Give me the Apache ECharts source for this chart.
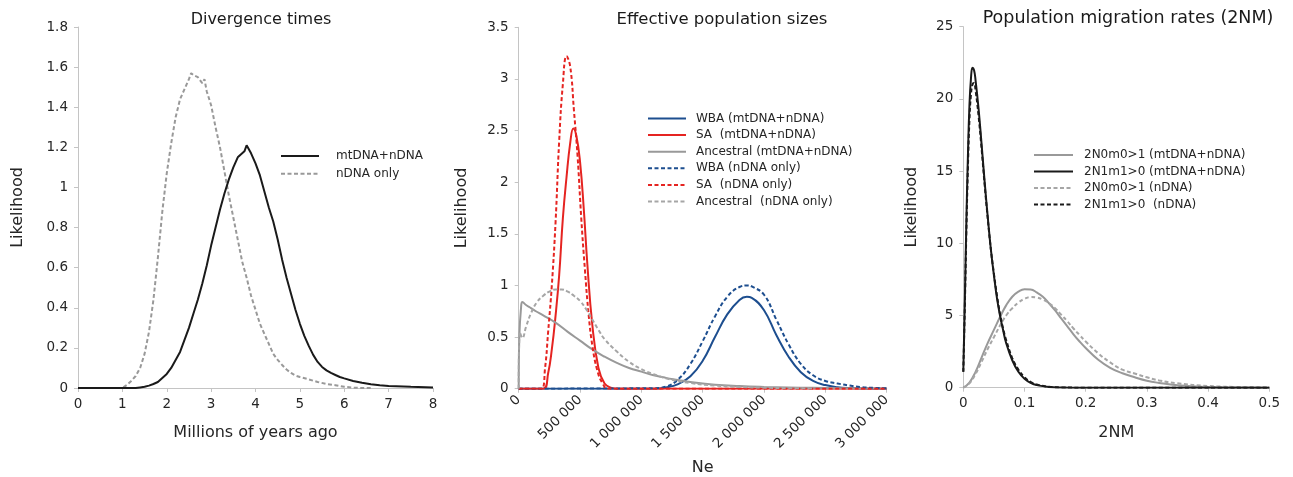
<!DOCTYPE html>
<html>
<head>
<meta charset="utf-8">
<script src="https://cdn.jsdelivr.net/npm/echarts@6/dist/echarts.min.js"></script>
<style>html,body{margin:0;padding:0;background:#fff}#c{width:1293px;height:477px}</style>
</head>
<body>
<div id="c"></div>
<script>
// ---------- Panel 1: Divergence times ----------
const divX_mt = [0,1.3,1.4,1.5,1.6,1.7,1.8,1.9,2.0,2.1,2.2,2.3,2.4,2.5,2.6,2.7,2.8,2.9,3.0,3.1,3.2,3.3,3.4,3.5,3.6,3.7,3.75,3.8,3.85,3.9,4.0,4.1,4.2,4.3,4.4,4.5,4.6,4.7,4.8,4.9,5.0,5.1,5.2,5.3,5.4,5.5,5.6,5.7,5.8,5.9,6.0,6.2,6.4,6.6,6.8,7.0,7.5,8.0];
const divY_mt = [0,0,0.003,0.006,0.012,0.02,0.03,0.05,0.07,0.1,0.14,0.18,0.24,0.3,0.37,0.44,0.52,0.61,0.71,0.8,0.89,0.97,1.04,1.1,1.15,1.17,1.18,1.21,1.19,1.17,1.12,1.06,0.98,0.9,0.83,0.74,0.64,0.55,0.47,0.39,0.32,0.26,0.21,0.165,0.13,0.105,0.088,0.075,0.065,0.055,0.048,0.035,0.026,0.019,0.014,0.01,0.006,0.003];
const divX_n = [0,1.0,1.1,1.2,1.3,1.4,1.5,1.6,1.7,1.8,1.9,2.0,2.1,2.2,2.3,2.4,2.5,2.55,2.6,2.7,2.8,2.85,2.9,3.0,3.1,3.2,3.3,3.4,3.5,3.6,3.7,3.8,3.9,4.0,4.1,4.2,4.3,4.4,4.5,4.6,4.7,4.8,4.9,5.0,5.2,5.4,5.6,5.8,6.0,6.2,6.4,6.6];
const divY_n = [0,0,0.015,0.035,0.06,0.1,0.17,0.28,0.44,0.65,0.88,1.07,1.22,1.35,1.44,1.49,1.54,1.57,1.56,1.55,1.52,1.54,1.48,1.41,1.3,1.2,1.08,0.96,0.85,0.74,0.63,0.55,0.46,0.39,0.32,0.27,0.22,0.17,0.14,0.115,0.092,0.075,0.062,0.055,0.043,0.03,0.02,0.014,0.006,0.002,0,0];

// ---------- Panel 2: Effective population sizes ----------
const wbaX_mt = [0,1100000,1200000,1300000,1400000,1500000,1600000,1700000,1800000,1860000,1900000,2000000,2100000,2200000,2300000,2400000,2500000,2600000,2700000,2800000,3000000];
const wbaY_mt = [0,0,0.012,0.045,0.12,0.27,0.5,0.72,0.86,0.89,0.88,0.76,0.52,0.31,0.16,0.075,0.035,0.015,0.006,0.002,0];
const saX_mt = [0,200000,240000,270000,300000,330000,360000,390000,420000,445000,470000,500000,530000,560000,600000,650000,700000,750000,800000,3000000];
const saY_mt = [0,0,0.15,0.38,0.7,1.1,1.65,2.05,2.38,2.52,2.45,2.2,1.75,1.2,0.62,0.2,0.05,0.01,0,0];
const ancX_mt = [0,5000,20000,30000,60000,100000,140000,200000,300000,400000,500000,600000,700000,800000,900000,1000000,1100000,1200000,1300000,1400000,1600000,1800000,2000000,2200000,2400000,2600000,3000000];
const ancY_mt = [0,0.5,0.8,0.84,0.81,0.78,0.75,0.71,0.64,0.55,0.465,0.38,0.31,0.25,0.2,0.165,0.13,0.105,0.085,0.065,0.038,0.025,0.017,0.012,0.008,0.005,0.002];
const wbaX_n = [0,1100000,1200000,1300000,1400000,1500000,1600000,1700000,1800000,1865000,1900000,2000000,2100000,2200000,2300000,2400000,2500000,2600000,2700000,2800000,2900000,3000000];
const wbaY_n = [0,0.005,0.02,0.09,0.24,0.46,0.7,0.89,0.985,1.0,0.99,0.91,0.67,0.43,0.24,0.13,0.075,0.05,0.03,0.015,0.008,0.003];
const saX_n = [0,185000,215000,240000,270000,300000,330000,360000,390000,420000,450000,480000,510000,540000,570000,600000,640000,680000,730000,3000000];
const saY_n = [0,0,0.2,0.55,1.0,1.6,2.4,2.95,3.22,3.12,2.7,2.25,1.65,1.15,0.72,0.42,0.18,0.06,0,0];
const ancX_n = [0,10000,30000,60000,100000,150000,200000,250000,300000,350000,400000,450000,500000,550000,600000,650000,700000,800000,900000,1000000,1100000,1200000,1300000,1400000,1600000,1800000,2000000,2200000,2400000];
const ancY_n = [0,0.55,0.49,0.6,0.73,0.84,0.9,0.94,0.96,0.96,0.94,0.9,0.85,0.77,0.67,0.57,0.48,0.36,0.26,0.19,0.14,0.1,0.075,0.055,0.03,0.017,0.01,0.005,0.002];

// ---------- Panel 3: Population migration rates (2NM) ----------
const migX_fast = [0,0.0025,0.005,0.0075,0.01,0.0125,0.015,0.0175,0.02,0.025,0.03,0.035,0.04,0.045,0.05,0.055,0.06,0.065,0.07,0.08,0.09,0.1,0.11,0.12,0.14,0.16,0.2,0.3,0.5];
const m10Y_mt = [1.1,6,11.5,16,19.5,21.4,22.15,22.0,21.3,19.3,16.8,14.2,11.8,9.6,7.8,6.2,5.0,4.0,3.1,1.9,1.1,0.62,0.34,0.18,0.05,0.015,0.002,0,0];
const m10Y_n = [1.1,5.6,10.8,15.2,18.5,20.3,21.0,21.1,20.6,18.8,16.5,14.0,11.7,9.6,7.9,6.4,5.1,4.1,3.3,2.05,1.25,0.72,0.4,0.22,0.065,0.02,0.003,0,0];
const migX_slow = [0,0.01,0.02,0.03,0.04,0.05,0.06,0.07,0.08,0.09,0.1,0.11,0.12,0.13,0.14,0.15,0.16,0.17,0.18,0.19,0.2,0.22,0.24,0.26,0.28,0.3,0.32,0.35,0.4,0.45,0.5];
const m01Y_mt = [0,0.35,1.1,2.1,3.1,4.0,4.9,5.7,6.3,6.65,6.82,6.8,6.6,6.3,5.85,5.35,4.8,4.25,3.7,3.2,2.75,1.95,1.38,1.0,0.72,0.48,0.33,0.17,0.05,0.015,0.005];
const m01Y_n = [0,0.3,0.95,1.8,2.7,3.5,4.3,5.0,5.5,5.9,6.15,6.28,6.25,6.1,5.85,5.5,5.05,4.6,4.1,3.65,3.2,2.4,1.75,1.25,0.98,0.72,0.5,0.3,0.12,0.045,0.01];

// tick / label texts
const titles = ['Divergence times', 'Effective population sizes', 'Population migration rates (2NM)'];
const xNames = ['Millions of years ago', 'Ne', '2NM'];
const yName = 'Likelihood';

const zip = (xs, ys) => xs.map((x, i) => [x, ys[i]]);
const FONT = 'DejaVu Sans';
const TXT = '#262626';
const BLACK = '#1a1a1a', GRAY = '#999999', LGRAY = '#a6a6a6', BLUE = '#1d4e8f', RED = '#e52421';

function line(name, data, ax, color, dashed, smooth) {
  return {
    name, type: 'line', data, xAxisIndex: ax, yAxisIndex: ax,
    symbol: 'none', showSymbol: false, smooth: smooth ? 0.45 : false,
    lineStyle: { color, width: 2, type: dashed ? [4, 2.5] : 'solid' },
    itemStyle: { color }, animation: false
  };
}

const axisLine = { show: true, lineStyle: { color: '#c4c4c4', width: 1 } };
const axisTick = { show: true, length: 4, lineStyle: { color: '#c4c4c4' } };
const labelStyle = { color: TXT, fontFamily: FONT, fontSize: 13.5 };
const nameStyle = { color: TXT, fontFamily: FONT, fontSize: 16 };

function xAxis(i, min, max, interval, extra) {
  return Object.assign({
    type: 'value', gridIndex: i, min, max, interval,
    axisLine, axisTick, splitLine: { show: false },
    axisLabel: Object.assign({ margin: 9 }, labelStyle),
    name: xNames[i], nameLocation: 'middle', nameGap: 37, nameTextStyle: nameStyle
  }, extra || {});
}
function yAxis(i, min, max, interval, gap) {
  return {
    type: 'value', gridIndex: i, min, max, interval,
    axisLine, axisTick, splitLine: { show: false },
    axisLabel: Object.assign({ margin: 10 }, labelStyle),
    name: yName, nameLocation: 'middle', nameGap: gap, nameTextStyle: nameStyle
  };
}
const fmtNe = v => String(v).replace(/\B(?=(\d{3})+(?!\d))/g, ' ');

function legend(names, left, top, iw, pad) {
  return {
    data: names, left, top, orient: 'vertical', padding: 0,
    itemWidth: iw, itemHeight: 12, itemGap: 4.6,
    itemStyle: { opacity: 0 },
    textStyle: { color: TXT, fontFamily: FONT, fontSize: 12, padding: [0, 0, 0, pad] }
  };
}

const titleStyle = (fs) => ({ color: BLACK, fontFamily: FONT, fontSize: fs, fontWeight: 'normal' });

const option = {
  backgroundColor: '#fff',
  animation: false,
  title: [
    { text: titles[0], left: 256, top: 6.5, textAlign: 'center', textStyle: titleStyle(16) },
    { text: titles[1], left: 717, top: 6, textAlign: 'center', textStyle: titleStyle(16.5) },
    { text: titles[2], left: 1123, top: 4.5, textAlign: 'center', textStyle: titleStyle(17.5) }
  ],
  grid: [
    { left: 78, top: 27, width: 355, height: 361, outerBoundsMode: 'none', containLabel: false },
    { left: 518.7, top: 27.3, width: 368, height: 361.4, outerBoundsMode: 'none', containLabel: false },
    { left: 963.3, top: 26.7, width: 306, height: 361, outerBoundsMode: 'none', containLabel: false }
  ],
  legend: [
    Object.assign(legend(['mtDNA+nDNA', 'nDNA only'], 280, 150, 38, 12), { itemGap: 5.7 }),
    legend(['WBA (mtDNA+nDNA)', 'SA  (mtDNA+nDNA)', 'Ancestral (mtDNA+nDNA)', 'WBA (nDNA only)', 'SA  (nDNA only)', 'Ancestral  (nDNA only)'], 647, 112.5, 38, 5),
    Object.assign(legend(['2N0m0>1 (mtDNA+nDNA)', '2N1m1>0 (mtDNA+nDNA)', '2N0m0>1 (nDNA)', '2N1m1>0  (nDNA)'], 1033, 149, 39, 6), { itemGap: 4.5 })
  ],
  xAxis: [
    xAxis(0, 0, 8, 1),
    xAxis(1, 0, 3000000, 500000, { axisLabel: Object.assign({ margin: 9, rotate: 45, formatter: fmtNe }, labelStyle), nameGap: 71 }),
    xAxis(2, 0, 0.5, 0.1)
  ],
  yAxis: [
    yAxis(0, 0, 1.8, 0.2, 52),
    yAxis(1, 0, 3.5, 0.5, 49),
    yAxis(2, 0, 25, 5, 43)
  ],
  series: [
    line('nDNA only', zip(divX_n, divY_n), 0, GRAY, true, false),
    line('mtDNA+nDNA', zip(divX_mt, divY_mt), 0, BLACK, false, false),

    line('WBA (mtDNA+nDNA)', zip(wbaX_mt, wbaY_mt), 1, BLUE, false, true),
    line('SA  (mtDNA+nDNA)', zip(saX_mt, saY_mt), 1, RED, false, true),
    line('Ancestral (mtDNA+nDNA)', zip(ancX_mt, ancY_mt), 1, GRAY, false, true),
    line('WBA (nDNA only)', zip(wbaX_n, wbaY_n), 1, BLUE, true, true),
    line('SA  (nDNA only)', zip(saX_n, saY_n), 1, RED, true, true),
    line('Ancestral  (nDNA only)', zip(ancX_n, ancY_n), 1, LGRAY, true, true),

    line('2N0m0>1 (mtDNA+nDNA)', zip(migX_slow, m01Y_mt), 2, GRAY, false, true),
    line('2N0m0>1 (nDNA)', zip(migX_slow, m01Y_n), 2, LGRAY, true, true),
    line('2N1m1>0 (mtDNA+nDNA)', zip(migX_fast, m10Y_mt), 2, BLACK, false, true),
    line('2N1m1>0  (nDNA)', zip(migX_fast, m10Y_n), 2, BLACK, true, true)
  ]
};

const chart = echarts.init(document.getElementById('c'), null, { renderer: 'canvas' });
chart.setOption(option);
</script>
</body>
</html>
